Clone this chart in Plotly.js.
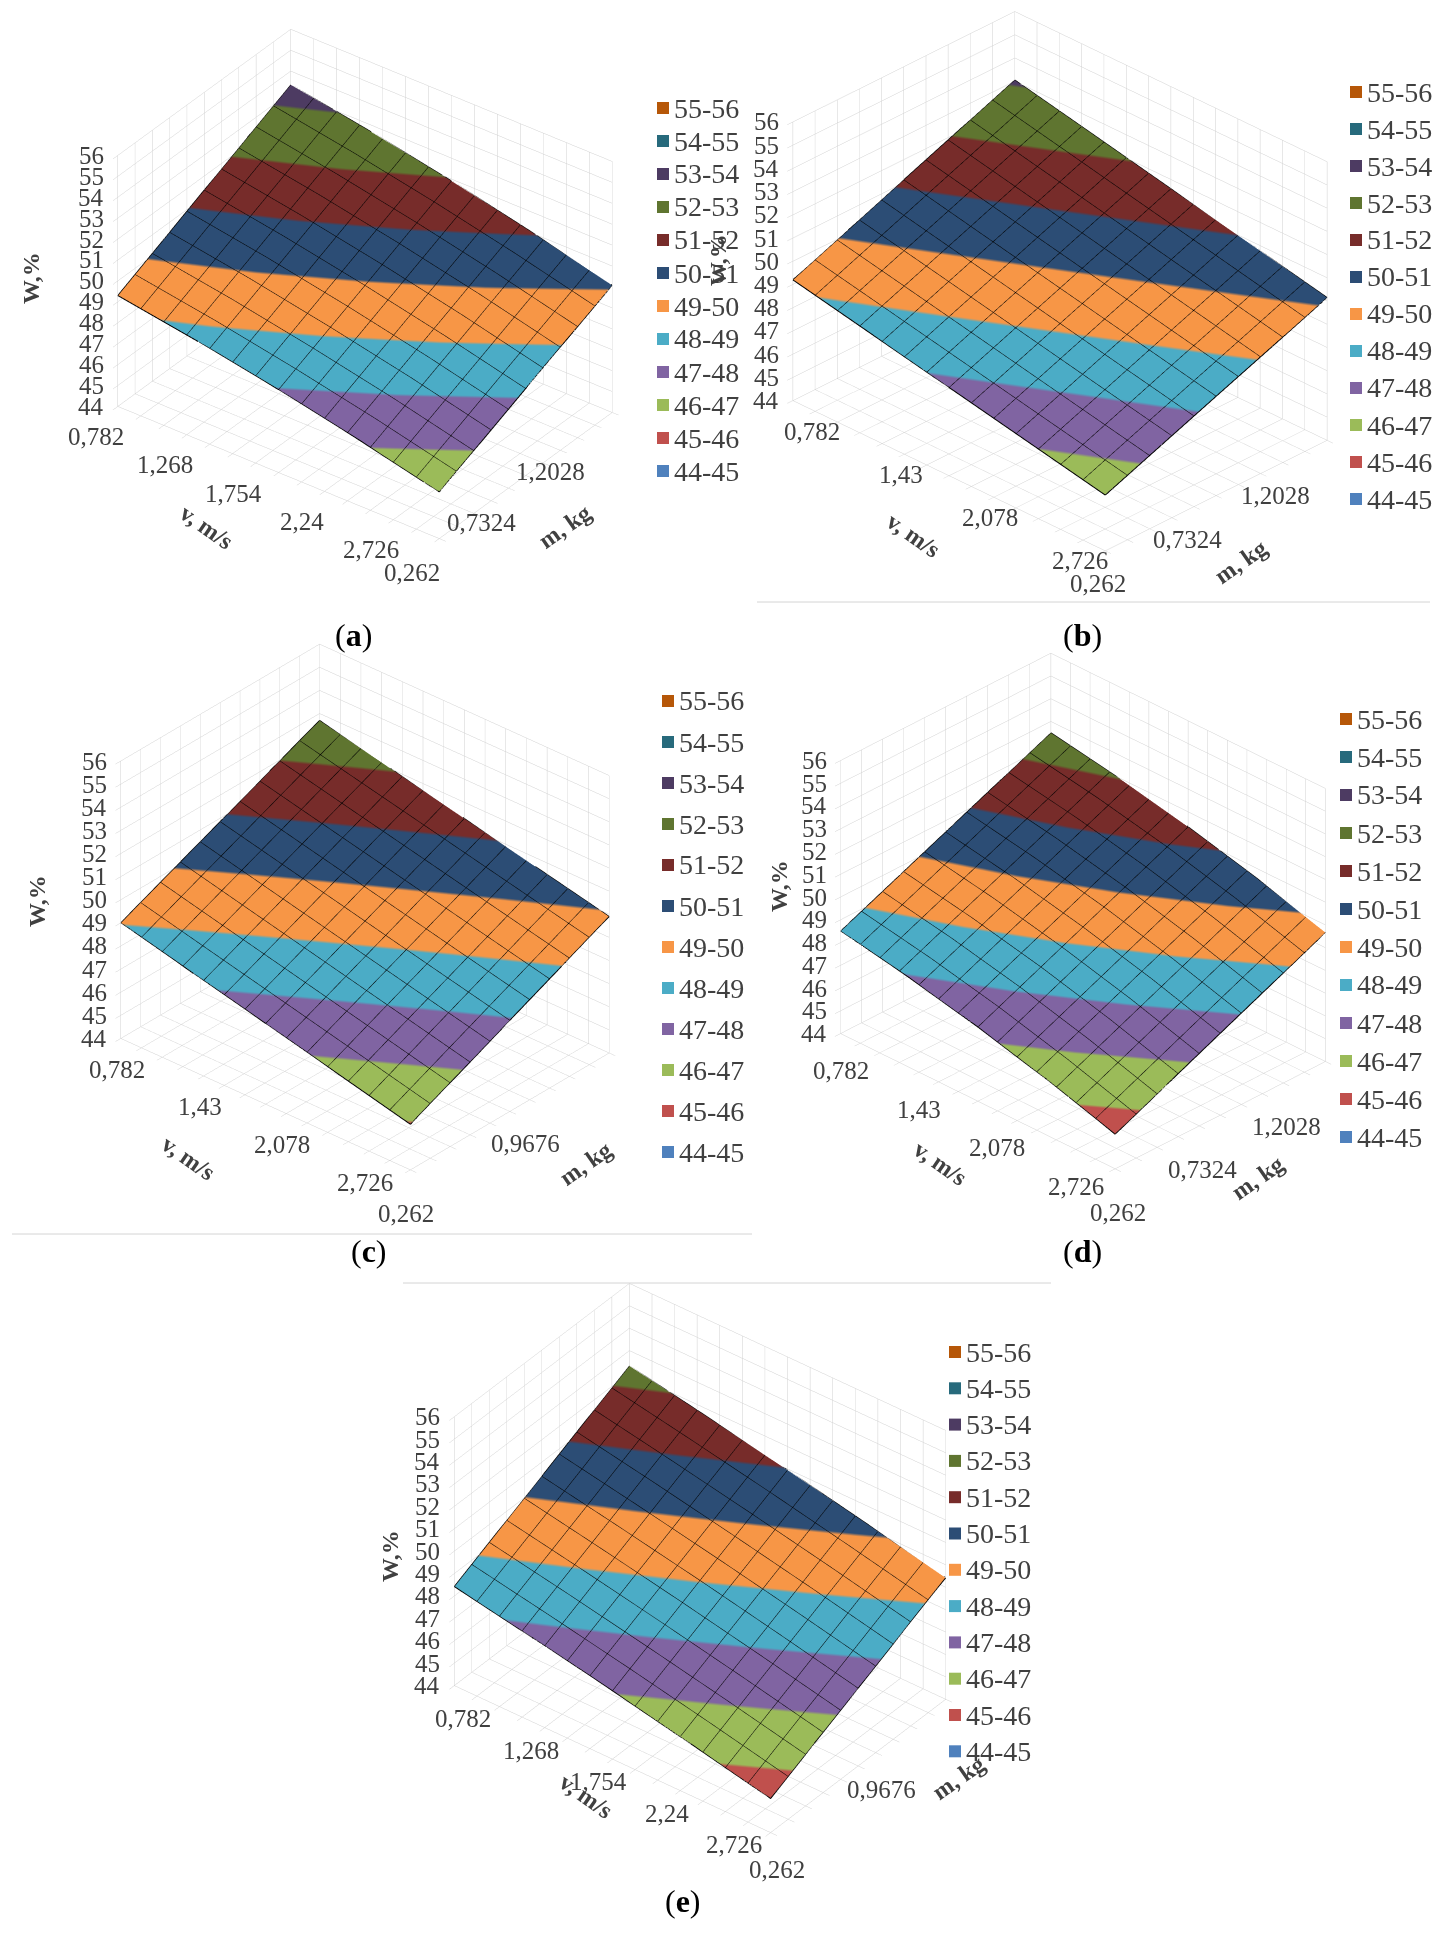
<!DOCTYPE html>
<html>
<head>
<meta charset="utf-8">
<script src="https://cdn.plot.ly/plotly-3.0.1.min.js"></script>
<style>
  html, body { margin: 0; padding: 0; background: #fff; }
  #chart { width: 1454px; height: 1937px; }
</style>
</head>
<body>
<div id="chart"></div>
<script>
// data points of the surfaces (Excel 3D surface, 15 x 11 grid)
const vTicks = [0.782, 0.944, 1.106, 1.268, 1.43, 1.592, 1.754, 1.916, 2.078, 2.24, 2.402, 2.564, 2.726, 2.888, 3.05];
const mTicks = [0.262, 0.3796, 0.4972, 0.6148, 0.7324, 0.85, 0.9676, 1.0852, 1.2028, 1.3204, 1.438];
const zTicks = [44, 45, 46, 47, 48, 49, 50, 51, 52, 53, 54, 55, 56];

// tick labels (every 3rd / 4th / 6th point is labelled)
const vText3 = ['0,782', '', '', '1,268', '', '', '1,754', '', '', '2,24', '', '', '2,726', '', ''];
const vText4 = ['0,782', '', '', '', '1,43', '', '', '', '2,078', '', '', '', '2,726', '', ''];
const mText4 = ['0,262', '', '', '', '0,7324', '', '', '', '1,2028', '', ''];
const mText6 = ['0,262', '', '', '', '', '', '0,9676', '', '', '', ''];
const zText = ['44', '45', '46', '47', '48', '49', '50', '51', '52', '53', '54', '55', '56'];

// coarse grid the W values were read on
const vGrid = [0.782, 1.349, 1.916, 2.483, 3.05];
const mGrid = [0.262, 0.556, 0.85, 1.144, 1.438];

// W, % (rows: m, columns: v)
const zA = [
  [49.30, 48.68, 47.96, 47.14, 46.23],
  [50.31, 49.68, 48.94, 48.12, 47.19],
  [51.33, 50.68, 49.93, 49.09, 48.16],
  [52.34, 51.68, 50.92, 50.07, 49.12],
  [53.35, 52.68, 51.91, 51.04, 50.08]
];
const zB = [
  [49.20, 48.50, 47.80, 47.10, 46.40],
  [50.16, 49.46, 48.75, 48.04, 47.34],
  [51.13, 50.41, 49.70, 48.99, 48.28],
  [52.09, 51.37, 50.65, 49.93, 49.21],
  [53.05, 52.33, 51.60, 50.88, 50.15]
];
const zC = [
  [49.00, 48.24, 47.49, 46.73, 45.97],
  [49.93, 49.18, 48.44, 47.70, 46.95],
  [50.85, 50.12, 49.39, 48.66, 47.94],
  [51.78, 51.06, 50.35, 49.63, 48.92],
  [52.70, 52.00, 51.30, 50.60, 49.90]
];
const zD = [
  [48.50, 47.94, 47.26, 46.45, 45.52],
  [49.50, 48.95, 48.28, 47.48, 46.56],
  [50.50, 49.96, 49.30, 48.51, 47.60],
  [51.50, 50.97, 50.32, 49.54, 48.63],
  [52.50, 51.98, 51.34, 50.57, 49.67]
];
const zE = [
  [48.42, 47.75, 47.05, 46.30, 45.52],
  [49.40, 48.73, 48.02, 47.28, 46.50],
  [50.37, 49.70, 49.00, 48.25, 47.47],
  [51.35, 50.68, 49.97, 49.23, 48.45],
  [52.32, 51.65, 50.95, 50.20, 49.42]
];

// legend bands, low to high
const bandLabels = ['44-45', '45-46', '46-47', '47-48', '48-49', '49-50', '50-51', '51-52', '52-53', '53-54', '54-55', '55-56'];
const bandColors = ['#4F81BD', '#C0504D', '#9BBB59', '#8064A2', '#4BACC6', '#F79646',
                    '#2C4D75', '#772C2A', '#5F7530', '#4D3B62', '#276A7C', '#B65708'];

const W = 1454, H = 1937;
const px = x => x / W;
const py = y => 1 - y / H;
const serif = 'Liberation Serif';
const vMin = vTicks[0], vMax = vTicks[vTicks.length - 1];
const mMin = mTicks[0], mMax = mTicks[mTicks.length - 1];
const eps = 1e-4; // keep edge labels inside the axis range

// stepped colour scale 44..56
const colorscale = [];
bandColors.forEach((c, i) => {
  colorscale.push([i / 12, c]);
  colorscale.push([(i + 1) / 12, c]);
});

// view of each panel: elevation / azimuth (deg), box shape (sets the size in orthographic view)
const panels = [
  { id: 'scene',  z: zA, vText: vText3, mText: mText4, dom: [80, 650, 0, 600], dz: -0.064,
    theta: 33.2, alpha: 36.9, aspect: { x: 1.34, y: 0.96, z: 1 },
    vSh: [-22, -30], mSh: [-27, -34],
    leg: [657, 108, 33], cap: [333, 615, 'a'],
    wT: [16, 250], vT: [172, 497], mT: [564, 497] },
  { id: 'scene2', z: zB, vText: vText4, mText: mText4, dom: [770, 1350, 0, 600], dz: -0.072,
    theta: 29.3, alpha: 44.5, aspect: { x: 1.46, y: 1.055, z: 1.065 },
    vSh: [19, -31], mSh: [-7, -33],
    leg: [1350, 92, 37], cap: [1104, 615, 'b'],
    wT: [718, 232], vT: [913, 505], mT: [1274, 532] },
  { id: 'scene3', z: zC, vText: vText4, mText: mText6, dom: [80, 650, 607, 1207], dz: 0,
    theta: 31.1, alpha: 41.3, aspect: { x: 1.285, y: 1.004, z: 1.08 },
    vSh: [-4, -31], mSh: [-4, -44],
    leg: [662, 701, 41], cap: [349, 1251, 'c'],
    wT: [22, 901], vT: [154, 1158], mT: [585, 1164] },
  { id: 'scene4', z: zD, vText: vText4, mText: mText4, dom: [826, 1340, 611, 1211], dz: 0,
    theta: 30.1, alpha: 44.5, aspect: { x: 1.283, y: 1.0, z: 1.052 },
    vSh: [0, -37], mSh: [3, -44],
    leg: [1340, 719, 38], cap: [1104, 1251, 'd'],
    wT: [779, 886], vT: [940, 1163], mT: [1291, 1178] },
  { id: 'scene5', z: zE, vText: vText3, mText: mText6, dom: [400, 1000, 1258, 1858], dz: 0,
    theta: 36.5, alpha: 38, aspect: { x: 1.338, y: 0.948, z: 1.115 },
    vSh: [9, -33], mSh: [6, -37],
    leg: [949, 1352, 36.3], cap: [683, 1921, 'e'],
    wT: [375, 1584], vT: [586, 1826], mT: [958, 1808] }
];

function axis(vals, range) {
  return {
    range: range, tickvals: vals, showticklabels: false,
    showgrid: true, gridcolor: '#d0d0d0', gridwidth: 1,
    showline: true, linecolor: '#d0d0d0', linewidth: 1,
    ticks: 'outside', ticklen: 8, tickcolor: '#d0d0d0',
    zeroline: false, showbackground: false,
    showspikes: false, title: { text: '' }
  };
}

const tickFont = { family: serif, size: 25, color: '#404040' };

const data = [];
const layout = {
  width: W, height: H,
  margin: { l: 0, r: 0, t: 0, b: 0 },
  paper_bgcolor: '#fff',
  showlegend: false,
  annotations: [],
  shapes: []
};

panels.forEach(p => {
  data.push({
    type: 'surface', scene: p.id,
    x: vGrid, y: mGrid, z: p.z,
    cmin: 44, cmax: 56, colorscale: colorscale, showscale: false,
    lighting: { ambient: 1, diffuse: 0, specular: 0, roughness: 1, fresnel: 0 },
    contours: {
      x: { show: true, start: vMin, end: vMax, size: 0.162, color: '#000', width: 2 },
      y: { show: true, start: mMin, end: mMax, size: 0.1176, color: '#000', width: 2 }
    },
    hoverinfo: 'skip'
  });

  // outline of the surface, taken from the grid border
  const n = vGrid.length - 1, k = mGrid.length - 1;
  const ex = [], ey = [], ez = [];
  for (let i = 0; i <= n; i++) { ex.push(vGrid[i]); ey.push(mGrid[0]); ez.push(p.z[0][i]); }
  for (let j = 1; j <= k; j++) { ex.push(vGrid[n]); ey.push(mGrid[j]); ez.push(p.z[j][n]); }
  for (let i = n - 1; i >= 0; i--) { ex.push(vGrid[i]); ey.push(mGrid[k]); ez.push(p.z[k][i]); }
  for (let j = k - 1; j >= 0; j--) { ex.push(vGrid[0]); ey.push(mGrid[j]); ez.push(p.z[j][0]); }
  data.push({
    type: 'scatter3d', scene: p.id, mode: 'lines',
    x: ex, y: ey, z: ez,
    line: { color: '#000', width: 2 },
    hoverinfo: 'skip', showlegend: false
  });

  // level tick labels, pinned to the box edges in data space
  const sceneNotes = [];
  vTicks.forEach((v, i) => {
    if (p.vText[i]) sceneNotes.push({ x: Math.max(v, vMin + eps), y: mMin + eps, z: 44 + eps, text: p.vText[i],
      showarrow: false, font: tickFont, xshift: p.vSh[0], yshift: p.vSh[1] });
  });
  mTicks.forEach((m, i) => {
    if (p.mText[i]) sceneNotes.push({ x: vMax - eps, y: Math.max(m, mMin + eps), z: 44 + eps, text: p.mText[i],
      showarrow: false, font: tickFont, xshift: p.mSh[0], yshift: p.mSh[1] });
  });
  zTicks.forEach((z, i) => {
    sceneNotes.push({ x: vMin + eps, y: mMin + eps, z: Math.min(Math.max(z, 44 + eps), 56 - eps), text: zText[i],
      showarrow: false, font: tickFont, xanchor: 'right', xshift: -12 });
  });

  const th = p.theta * Math.PI / 180, al = p.alpha * Math.PI / 180;
  const r = 2;
  layout[p.id] = {
    domain: { x: [px(p.dom[0]), px(p.dom[1])], y: [py(p.dom[3]), py(p.dom[2])] },
    aspectmode: 'manual', aspectratio: p.aspect,
    camera: {
      eye: { x: r * Math.cos(th) * Math.sin(al), y: -r * Math.cos(th) * Math.cos(al), z: r * Math.sin(th) + p.dz },
      up: { x: 0, y: 0, z: 1 }, center: { x: 0, y: 0, z: p.dz },
      projection: { type: 'orthographic' }
    },
    xaxis: axis(vTicks, [vMin, vMax]),
    yaxis: axis(mTicks, [mMin, mMax]),
    zaxis: axis(zTicks, [44, 56]),
    annotations: sceneNotes
  };

  // legend: high band on top
  for (let i = 0; i < 12; i++) {
    const b = 11 - i;
    const y = p.leg[1] + i * p.leg[2];
    layout.shapes.push({
      type: 'rect', xref: 'paper', yref: 'paper',
      x0: px(p.leg[0]), x1: px(p.leg[0] + 12), y0: py(y - 6), y1: py(y + 6),
      fillcolor: bandColors[b], line: { width: 0 }
    });
    layout.annotations.push({
      xref: 'paper', yref: 'paper', x: px(p.leg[0] + 15), y: py(y),
      xanchor: 'left', yanchor: 'middle', showarrow: false,
      text: bandLabels[b], font: { family: serif, size: 28, color: '#404040' }
    });
  }

  // axis titles
  const bold = { family: serif, size: 24, color: '#404040' };
  layout.annotations.push({ xref: 'paper', yref: 'paper', x: px(p.wT[0]), y: py(p.wT[1]),
    text: '<b>W,%</b>', textangle: -90, showarrow: false, font: bold });
  layout.annotations.push({ xref: 'paper', yref: 'paper', x: px(p.vT[0]), y: py(p.vT[1]),
    text: '<b>v, m/s</b>', textangle: 35, showarrow: false, font: bold });
  layout.annotations.push({ xref: 'paper', yref: 'paper', x: px(p.mT[0]), y: py(p.mT[1]),
    text: '<b>m, kg</b>', textangle: -35, showarrow: false, font: bold });

  // caption
  layout.annotations.push({ xref: 'paper', yref: 'paper', x: px(p.cap[0]), y: py(p.cap[1]),
    text: '(<b>' + p.cap[2] + '</b>)', showarrow: false,
    font: { family: serif, size: 32, color: '#000' } });
});

// thin frame lines between the panels
[[757, 1430, 602], [12, 752, 1234], [403, 1051, 1283]].forEach(l => {
  layout.shapes.push({ type: 'line', xref: 'paper', yref: 'paper',
    x0: px(l[0]), x1: px(l[1]), y0: py(l[2]), y1: py(l[2]),
    line: { color: '#d4d4d4', width: 1 } });
});

Plotly.newPlot('chart', data, layout, { displayModeBar: false });
</script>
</body>
</html>
